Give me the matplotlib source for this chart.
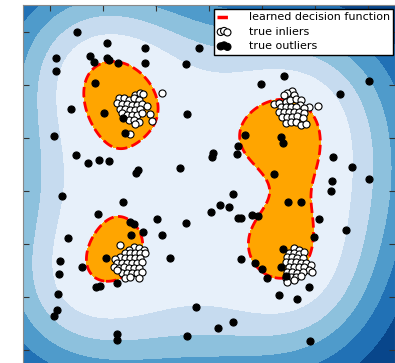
import numpy as np
import matplotlib.pyplot as plt
from matplotlib.font_manager import FontProperties

# outliers scattered over the square
outliers_x = [-4.95, -3.82, -2.40, -0.36, -5.77, -4.47, -4.31, -3.84, -3.78, -3.44,
              -2.42, -0.85, -5.77, 2.81, -4.28, 1.94, 6.02, 4.92, -5.19, -3.97,
              -0.82, -5.84, -3.15, 1.34, 2.72, 2.79, 1.09, 0.16, 0.13, 1.04,
              -4.99, -4.56, -4.13, -3.78, 4.65, -2.69, -2.74, -1.11, 5.38, 2.46,
              4.62, 6.01, 4.60, -5.55, 0.91, -3.25, 0.41, 0.75, 0.08, 2.97,
              3.47, -4.18, -1.96, -2.99, -2.81, 1.11, 1.21, 1.63, 1.86, -0.87,
              4.13, -2.47, -2.94, -1.78, 5.16, 3.97, -5.31, -3.89, -1.45, -5.60,
              1.20, 1.73, 1.98, -5.65, -4.79, 2.70, 2.80, 2.89, 2.17, -3.47,
              -4.25, -4.10, 3.77, -5.68, 2.64, 3.33, -0.48, -5.73, -5.83, 0.90,
              0.32, -3.45, -3.47, -0.81, 3.79, -3.23]
outliers_y = [5.97, 5.55, 5.39, 5.39, 4.99, 5.09, 4.84, 4.99, 4.92, 4.82,
              4.80, 4.76, 4.51, 4.31, 4.07, 4.01, 4.12, 3.65, 3.08, 2.91,
              2.90, 2.06, 2.16, 2.08, 2.01, 1.78, 1.69, 1.43, 1.25, 1.39,
              1.34, 1.03, 1.14, 1.10, 1.28, 0.77, 0.65, 0.84, 0.90, 0.64,
              0.36, 0.43, -0.02, -0.19, -0.14, -0.42, -0.55, -0.62, -0.82, -0.42,
              -0.42, -0.87, -1.08, -1.18, -1.28, -1.05, -1.05, -0.92, -0.96, -1.24,
              -1.08, -1.57, -1.69, -1.69, -1.49, -1.74, -1.80, -2.56, -2.56, -2.66,
              -2.60, -2.72, -2.95, -3.14, -2.89, -2.87, -2.22, -3.23, -3.30, -3.50,
              -3.65, -3.60, -3.64, -3.91, -3.94, -4.09, -4.41, -4.51, -4.74, -4.97,
              -5.20, -5.43, -5.64, -5.49, -5.68, 2.74]

# inliers, four tight clusters
inliers_x = [
    # upper left
    -2.77, -2.58, -2.48, -3.40, -3.21, -3.02, -2.84, -2.65, -3.46, -3.28,
    -3.09, -2.90, -2.71, -2.52, -2.33, -3.34, -3.15, -2.96, -2.77, -2.58,
    -3.28, -3.09, -2.90, -2.71, -2.52, -2.23, -3.02, -2.84, -2.65, -2.77,
    -2.14, -2.96, -1.77,
    # upper right
    3.14, 2.95, 2.82, 3.20, 2.45, 2.64, 2.89, 3.05, 3.26, 3.45,
    3.43, 3.77, 4.11, 2.70, 2.89, 3.08, 3.26, 3.58, 2.64, 2.82,
    3.01, 3.20, 3.39, 3.58, 2.76, 2.95, 3.14, 3.33, 3.52, 2.89,
    3.08, 3.26, 3.45, 3.64,
    # lower left
    -3.34, -2.84, -3.02, -2.65, -2.46, -3.15, -2.96, -2.77, -2.58, -2.40,
    -3.34, -3.53, -3.15, -2.96, -2.77, -2.58, -3.46, -3.28, -3.09, -2.90,
    -2.71, -2.52, -3.59, -3.40, -3.21, -3.02, -2.84, -2.65, -3.28, -3.09,
    -2.90, -2.71, -2.52, -3.15, -2.96, -2.65, -3.46,
    # lower right
    3.20, 3.39, 3.01, 3.20, 3.39, 3.58, 2.95, 3.14, 3.33, 3.52,
    2.89, 3.08, 3.26, 3.45, 3.64, 3.83, 3.01, 3.20, 3.39, 3.58,
    3.77, 2.95, 3.14, 3.33, 3.52, 3.08, 3.26, 3.45, 3.89, 2.89,
    3.20, 2.95]
inliers_y = [
    3.60, 3.67, 3.64, 3.48, 3.48, 3.42, 3.48, 3.42, 3.29, 3.26,
    3.26, 3.23, 3.23, 3.26, 3.19, 3.06, 3.06, 3.04, 3.04, 3.06,
    2.91, 2.85, 2.85, 2.85, 2.91, 2.87, 2.66, 2.66, 2.60, 2.51,
    2.64, 2.13, 3.69,
    3.77, 3.67, 3.60, 3.60, 3.26, 3.31, 3.35, 3.42, 3.44, 3.42,
    3.23, 3.16, 3.19, 3.16, 3.16, 3.16, 3.16, 3.10, 2.97, 2.97,
    2.97, 2.97, 2.97, 2.91, 2.79, 2.79, 2.79, 2.81, 2.72, 2.56,
    2.60, 2.60, 2.47, 2.51,
    -2.06, -2.12, -2.25, -2.18, -2.25, -2.37, -2.37, -2.37, -2.37, -2.37,
    -2.50, -2.60, -2.56, -2.56, -2.56, -2.56, -2.75, -2.75, -2.75, -2.75,
    -2.75, -2.69, -2.87, -2.94, -2.90, -2.94, -2.94, -2.94, -3.13, -3.13,
    -3.10, -3.13, -3.06, -3.31, -3.28, -3.31, -3.00,
    -2.18, -2.24, -2.35, -2.37, -2.40, -2.31, -2.50, -2.52, -2.56, -2.56,
    -2.69, -2.69, -2.69, -2.72, -2.75, -2.81, -2.87, -2.87, -2.90, -2.87,
    -3.00, -3.06, -3.06, -3.10, -3.06, -3.25, -3.25, -3.23, -3.06, -3.31,
    -3.38, -3.44]

outliers_fraction = 0.25
X = np.column_stack([inliers_x + outliers_x, inliers_y + outliers_y])
n = len(X)

# one-class SVM (rbf), dual solved by projected gradient on the capped simplex
gamma = 0.1
nu = 0.95 * outliers_fraction + 0.05
C = 1.0 / (nu * n)


def kernel(A, B):
    d2 = ((A[:, None, :] - B[None, :, :]) ** 2).sum(-1)
    return np.exp(-gamma * d2)


def project(v):
    lo, hi = v.min() - C, v.max()
    for _ in range(80):
        tau = 0.5 * (lo + hi)
        if np.clip(v - tau, 0, C).sum() > 1:
            lo = tau
        else:
            hi = tau
    return np.clip(v - tau, 0, C)


K = kernel(X, X)
step = 1.0 / np.linalg.eigvalsh(K).max()
alpha = np.full(n, 1.0 / n)
for _ in range(3000):
    alpha = project(alpha - step * K @ alpha)

scores = K @ alpha
threshold = np.percentile(scores, 47)

xx, yy = np.meshgrid(np.linspace(-7, 7, 400), np.linspace(-7, 7, 400))
Z = (kernel(np.c_[xx.ravel(), yy.ravel()], X) @ alpha).reshape(xx.shape)

fig = plt.figure(figsize=(3.95, 3.63), dpi=100)
ax = fig.add_axes([23 / 395, -13 / 363, 372 / 395, 371 / 363])

ax.contourf(xx, yy, Z, levels=np.linspace(Z.min(), threshold, 7), cmap=plt.cm.Blues_r)
ax.contour(xx, yy, Z, levels=[threshold], linewidths=2, colors='red', linestyles='dashed')
ax.contourf(xx, yy, Z, levels=[threshold, Z.max()], colors='orange')
b = ax.scatter(inliers_x, inliers_y, c='white', s=26, edgecolors='black', linewidths=0.8, zorder=3)
c = ax.scatter(outliers_x, outliers_y, c='black', s=26, edgecolors='black', linewidths=0.8, zorder=3)

ax.set_xlim(-7, 7)
ax.set_ylim(-7, 7)
ax.set_xticks(np.arange(-6, 7, 2))
ax.set_yticks(np.arange(-6, 7, 2))
ax.set_xticklabels([])
ax.set_yticklabels([])
ax.tick_params(direction='in', top=True, right=True, length=4, color='#333333')
for s in ax.spines.values():
    s.set_color('#888888')

line = plt.Line2D([], [], color='red', lw=2.5, dashes=(3, 3))
ax.legend([line, b, c], ['learned decision function', 'true inliers', 'true outliers'],
          prop=FontProperties(size=8), loc='upper right', bbox_to_anchor=(0.9946, 0.989),
          scatterpoints=3, fancybox=False, framealpha=1, edgecolor='black',
          borderpad=0.3, labelspacing=0.4, handlelength=1.2, handletextpad=1.6,
          borderaxespad=0.0)

fig.savefig('out.png')
